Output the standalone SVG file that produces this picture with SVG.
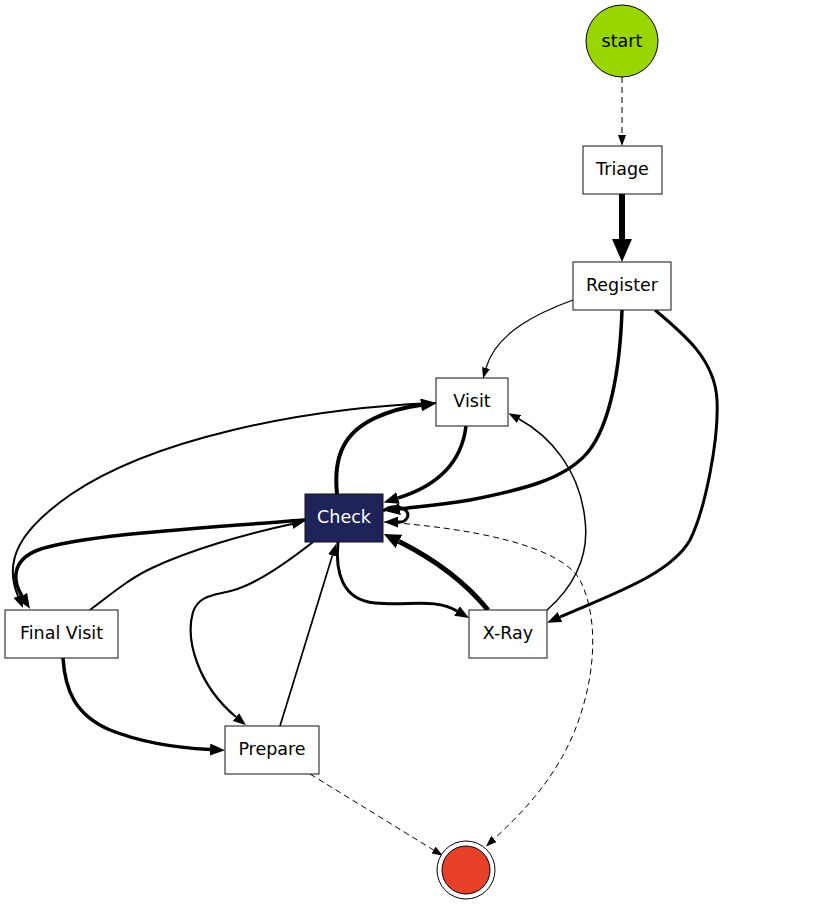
<svg xmlns="http://www.w3.org/2000/svg" width="815" height="906" viewBox="0 0 815 906">
<style>
.node rect{fill:#fff;stroke:#111;stroke-width:1}
.lbl{font-family:"DejaVu Sans","Liberation Sans",sans-serif;font-size:17.5px;text-anchor:middle;fill:#000}
.e{fill:none;stroke:#000}
.d{stroke-dasharray:6,4;stroke-width:1}
</style>
<defs>
<marker id="a10" viewBox="0 0 11 8" refX="0" refY="4" markerWidth="11" markerHeight="8" markerUnits="userSpaceOnUse" orient="auto"><path d="M0,0 L11,4 L0,8 z"/></marker>
<marker id="a11" viewBox="0 0 12 9" refX="0" refY="4.5" markerWidth="12" markerHeight="9" markerUnits="userSpaceOnUse" orient="auto"><path d="M0,0 L12,4.5 L0,9 z"/></marker>
<marker id="a12" viewBox="0 0 13 10" refX="0" refY="5" markerWidth="13" markerHeight="10" markerUnits="userSpaceOnUse" orient="auto"><path d="M0,0 L13,5 L0,10 z"/></marker>
<marker id="a13" viewBox="0 0 14 11" refX="0" refY="5.5" markerWidth="14" markerHeight="11" markerUnits="userSpaceOnUse" orient="auto"><path d="M0,0 L14,5.5 L0,11 z"/></marker>
<marker id="a14" viewBox="0 0 15 12" refX="0" refY="6" markerWidth="15" markerHeight="12" markerUnits="userSpaceOnUse" orient="auto"><path d="M0,0 L15,6 L0,12 z"/></marker>
<marker id="a15" viewBox="0 0 16 13" refX="0" refY="6.5" markerWidth="16" markerHeight="13" markerUnits="userSpaceOnUse" orient="auto"><path d="M0,0 L16,6.5 L0,13 z"/></marker>
<marker id="a17" viewBox="0 0 17 15" refX="0" refY="7.5" markerWidth="17" markerHeight="15" markerUnits="userSpaceOnUse" orient="auto"><path d="M0,0 L17,7.5 L0,15 z"/></marker>
<marker id="a23" viewBox="0 0 23 20" refX="0" refY="10" markerWidth="23" markerHeight="20" markerUnits="userSpaceOnUse" orient="auto"><path d="M0,0 L23,10 L0,20 z"/></marker>
</defs>
<g id="connectors">
<path class="e d" d="M622,77 L622,135" marker-end="url(#a10)"/>
<path class="e" stroke-width="6" d="M622,194 L622,239" marker-end="url(#a23)"/>
<path class="e" stroke-width="1.2" d="M573,300 C540,312 496,332 486,368" marker-end="url(#a10)"/>
<path class="e" stroke-width="3.5" d="M622,310 C620,370 610,425 588,452 C565,480 520,490 470,500 C440,505 415,507 400,509" marker-end="url(#a14)"/>
<path class="e" stroke-width="3" d="M655,310 C685,335 715,360 717,400 C719,440 705,510 690,540 C670,575 610,595 560,617" marker-end="url(#a13)"/>
<path class="e" stroke-width="3.5" d="M466,426 C462,460 440,485 398,498" marker-end="url(#a14)"/>
<path class="e" stroke-width="4" d="M337,494 C333,455 345,432 375,418 C390,411 405,407 421,405" marker-end="url(#a15)"/>
<path class="e" stroke-width="2" d="M436,403 C300,408 150,440 70,495 C20,530 3,560 18,596" marker-end="url(#a12)"/>
<path class="e" stroke-width="3.5" d="M305,520 C200,528 80,535 38,550 C12,560 12,580 22,596" marker-end="url(#a14)"/>
<path class="e" stroke-width="2" d="M90,610 C110,595 130,578 152,568 C190,550 245,534 292,524" marker-end="url(#a12)"/>
<path class="e" stroke-width="2.2" d="M313,542 C290,560 262,580 240,588 C220,596 200,592 193,612 C185,640 198,685 236,717" marker-end="url(#a12)"/>
<path class="e" stroke-width="1.7" d="M280,726 L332.4,555.5" marker-end="url(#a11)"/>
<path class="e" stroke-width="3.5" d="M63,658 C65,690 75,715 110,730 C145,744 180,748 210,749.5" marker-end="url(#a14)"/>
<path class="e" stroke-width="3" d="M338,542 C335,572 342,600 375,603 C410,606 435,598 457,611" marker-end="url(#a13)"/>
<path class="e" stroke-width="5" d="M488,610 C470,588 440,562 399,541.5" marker-end="url(#a17)"/>
<path class="e" stroke-width="1.5" d="M547,610 C570,590 590,560 585,520 C580,470 550,436 519,419" marker-end="url(#a11)"/>
<path class="e" stroke-width="3" d="M383,511 C396,502 412,510 407,518 C404,523 401,522 398,522" marker-end="url(#a13)"/>
<path class="e d" d="M384,522 C470,528 560,545 580,580 C600,620 595,680 575,730 C555,780 520,815 494,839" marker-end="url(#a10)"/>
<path class="e d" d="M310,774 L433.5,850" marker-end="url(#a10)"/>
</g>
<g id="start"><circle cx="622" cy="41" r="36" fill="#99d600" stroke="#000" stroke-width="1"/><text class="lbl" x="622" y="47">start</text></g>
<g id="triage" class="node"><rect x="583" y="146" width="79" height="48"/><text class="lbl" x="622.5" y="175">Triage</text></g>
<g id="register" class="node"><rect x="573" y="262" width="98" height="48"/><text class="lbl" x="622" y="291">Register</text></g>
<g id="visit" class="node"><rect x="436" y="378" width="72" height="48"/><text class="lbl" x="472" y="407">Visit</text></g>
<g id="check" class="node"><rect x="305" y="494" width="78" height="48" style="fill:#1e2459;stroke:#111"/><text class="lbl" x="344" y="523" style="fill:#fff">Check</text></g>
<g id="finalvisit" class="node"><rect x="5" y="610" width="113" height="48"/><text class="lbl" x="61.5" y="639">Final Visit</text></g>
<g id="xray" class="node"><rect x="469" y="610" width="78" height="48"/><text class="lbl" x="508" y="639">X-Ray</text></g>
<g id="prepare" class="node"><rect x="225" y="726" width="94" height="48"/><text class="lbl" x="272" y="755">Prepare</text></g>
<g id="end"><circle cx="466" cy="870" r="29" fill="#fff" stroke="#000" stroke-width="1"/><circle cx="466" cy="870" r="24" fill="#e8412a" stroke="#000" stroke-width="1"/></g>
</svg>
